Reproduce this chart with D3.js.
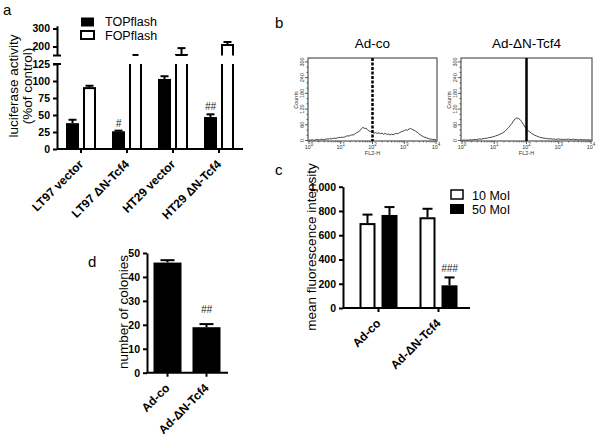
<!DOCTYPE html>
<html>
<head>
<meta charset="utf-8">
<script src="https://cdn.jsdelivr.net/npm/d3@7/dist/d3.min.js"></script>
<style>
body { margin: 0; background: #fff; }
svg { font-family: "Liberation Sans", Arial, sans-serif; }
</style>
</head>
<body>
<svg id="fig" width="600" height="438"></svg>
<script>
// ---- panel a: luciferase reporter
var lucGroups = ["LT97 vector", "LT97 \u0394N-Tcf4", "HT29 vector", "HT29 \u0394N-Tcf4"];
var topflash = [38, 26, 103, 47];
var topflashErr = [5, 1, 4, 4];
var fopflash = [91, 148, 153, 209];
var fopflashErr = [2, 5, 38, 16];
var lucTicksLow = [0, 25, 50, 75, 100, 125];
var lucTicksHigh = [200, 300];

// ---- panel b: FACS histograms (counts per 0.05 log-decade bin, 10^0..10^4)
var facsTicksY = [0, 60, 120, 180, 240, 300];
var facsDecades = [0, 1, 2, 3, 4];
var adCoCounts = [2,1,3,1,2,4,2,3,5,3, 4,6,5,7,6,8,9,8,10,12,
	11,13,12,15,18,17,19,22,21,26, 30,33,37,45,50,46,47,40,36,33,
	31,28,30,27,29,26,28,24,27,23, 25,21,24,22,25,27,26,30,33,35,
	38,41,39,44,46,42,40,36,32,27, 22,18,15,12,10,8,6,5,4,4, 3];
var adDnCounts = [1,2,1,2,1,3,2,3,4,3, 5,6,5,7,8,8,10,11,12,14,
	15,18,20,22,26,28,32,37,44,50, 58,66,75,83,86,84,80,72,62,52,
	44,38,33,28,24,20,18,15,13,11, 10,9,8,7,6,7,5,6,4,5,
	6,4,5,3,5,4,6,3,4,5, 3,4,2,3,4,2,3,2,3,2, 2];
var facsGate = 100;

// ---- panel c: mean fluorescence intensity
var mfiGroups = ["Ad-co", "Ad-\u0394N-Tcf4"];
var moi10 = [700, 748];
var moi10Err = [70, 70];
var moi50 = [767, 187];
var moi50Err = [65, 65];
var mfiTicks = [0, 200, 400, 600, 800, 1000];

// ---- panel d: colonies
var colGroups = ["Ad-co", "Ad-\u0394N-Tcf4"];
var colonies = [46, 19];
var coloniesErr = [1, 1.3];
var colTicks = [0, 10, 20, 30, 40, 50];

var svg = d3.select("#fig");

function styleAxis(g, fs) {
	g.selectAll("path, line").attr("stroke", "#000").attr("stroke-width", 2);
	g.selectAll("text").attr("font-size", fs).attr("font-weight", "bold")
		.attr("fill", "#000").attr("font-family", "Liberation Sans, Arial, sans-serif");
}

function label(x, y, t, size) {
	svg.append("text").attr("x", x).attr("y", y).attr("font-size", size || 15).text(t);
}

function errBar(cx, yTop, yErr, cap) {
	svg.append("line").attr("x1", cx).attr("x2", cx).attr("y1", yTop).attr("y2", yErr)
		.attr("stroke", "#000").attr("stroke-width", 2);
	svg.append("line").attr("x1", cx - cap / 2).attr("x2", cx + cap / 2).attr("y1", yErr).attr("y2", yErr)
		.attr("stroke", "#000").attr("stroke-width", 2);
}

function xLabels(scale, groups, y0, dx, dy) {
	groups.forEach(function(g) {
		var cx = scale(g) + scale.bandwidth() / 2;
		svg.append("text")
			.attr("transform", "translate(" + (cx + dx) + "," + (y0 + dy) + ") rotate(-45)")
			.attr("text-anchor", "end").attr("font-size", 12).attr("font-weight", "bold")
			.text(g);
	});
}

function xAxis(scale, y0, x0, x1) {
	svg.append("g").attr("transform", "translate(0," + y0 + ")")
		.call(d3.axisBottom(scale).tickSize(4).tickSizeOuter(0).tickFormat(""))
		.call(function(g) { g.select(".domain").attr("d", "M" + x0 + ",0H" + x1); })
		.call(styleAxis, 10.5);
}

function hash(x, y, t) {
	svg.append("text").attr("x", x).attr("y", y).attr("text-anchor", "middle")
		.attr("font-size", 10).attr("font-style", "italic").attr("fill", "#222").text(t);
}

// ================= panel a
label(3, 15, "a");
var ax0 = 57, aBase = 149;
var yLow = d3.scaleLinear().domain([0, 125]).range([aBase, 64]);
var yHigh = d3.scaleLinear().domain([150, 315]).range([55.5, 25.8]);
var xa = d3.scaleBand().domain(lucGroups).range([58, 242]);

svg.append("g").attr("transform", "translate(" + ax0 + ",0)")
	.call(d3.axisLeft(yLow).tickValues(lucTicksLow).tickSize(4).tickSizeOuter(0))
	.call(styleAxis, 10.5);
svg.append("g").attr("transform", "translate(" + ax0 + ",0)")
	.call(d3.axisLeft(yHigh).tickValues(lucTicksHigh).tickSize(4).tickSizeOuter(0))
	.call(styleAxis, 10.5);
[55.5, 64].forEach(function(y) {
	svg.append("line").attr("x1", ax0 - 4).attr("x2", ax0 + 4).attr("y1", y).attr("y2", y)
		.attr("stroke", "#000").attr("stroke-width", 2);
});
xAxis(xa, aBase, ax0, 243);

lucGroups.forEach(function(g, i) {
	var c = xa(g) + xa.bandwidth() / 2;
	// TOPflash
	svg.append("rect").attr("x", c - 15).attr("width", 13)
		.attr("y", yLow(topflash[i])).attr("height", aBase - yLow(topflash[i])).attr("fill", "#000");
	errBar(c - 8.5, yLow(topflash[i]), yLow(topflash[i] + topflashErr[i]), 8);
	// FOPflash
	var v = fopflash[i];
	if (v <= 125) {
		svg.append("rect").attr("x", c + 3).attr("width", 11)
			.attr("y", yLow(v) + 1).attr("height", aBase - yLow(v) - 1)
			.attr("fill", "#fff").attr("stroke", "#000").attr("stroke-width", 2);
		errBar(c + 8.5, yLow(v), yLow(v + fopflashErr[i]), 8);
	} else {
		// lower segment: bar runs off the top of the axis
		svg.append("path").attr("d", "M" + (c + 3) + "," + yLow(125) + "V" + aBase + "M" + (c + 14) + "," + aBase + "V" + yLow(125))
			.attr("fill", "none").attr("stroke", "#000").attr("stroke-width", 2);
		if (v >= 150) {
			svg.append("path").attr("d", "M" + (c + 3) + "," + yHigh(150) + "V" + yHigh(v) + "H" + (c + 14) + "V" + yHigh(150))
				.attr("fill", "none").attr("stroke", "#000").attr("stroke-width", 2);
			errBar(c + 8.5, yHigh(v), yHigh(v + fopflashErr[i]), 8);
		} else {
			errBar(c + 8.5, yHigh(150), yHigh(v + fopflashErr[i]), 6);
		}
	}
});
hash(xa(lucGroups[1]) + xa.bandwidth() / 2 - 8.5, yLow(topflash[1] + topflashErr[1]) - 4, "#");
hash(xa(lucGroups[3]) + xa.bandwidth() / 2 - 8.5, yLow(topflash[3] + topflashErr[3]) - 4, "##");
xLabels(xa, lucGroups, aBase, 3, 16);

svg.append("text").attr("transform", "translate(18,86) rotate(-90)").attr("text-anchor", "middle")
	.attr("font-size", 13.5).text("luciferase activity");
svg.append("text").attr("transform", "translate(32,86) rotate(-90)").attr("text-anchor", "middle")
	.attr("font-size", 13.5).text("(%of control)");

// legend a
svg.append("rect").attr("x", 81).attr("y", 17.5).attr("width", 13).attr("height", 9).attr("fill", "#000");
svg.append("rect").attr("x", 81).attr("y", 31).attr("width", 13).attr("height", 8)
	.attr("fill", "#fff").attr("stroke", "#000").attr("stroke-width", 2);
svg.append("text").attr("x", 105).attr("y", 26).attr("font-size", 12.5).text("TOPflash");
svg.append("text").attr("x", 105).attr("y", 40).attr("font-size", 12.5).text("FOPflash");

// ================= panel b
label(275, 28, "b");
function facs(x0, x1, counts, title, dashed) {
	var top = 58, bot = 141;
	var xs = d3.scaleLog().domain([1, 1e4]).range([x0 + 1, x1 - 1]);
	var ys = d3.scaleLinear().domain([0, 315]).range([140.5, top]);
	var bins = counts.map(function(d, i) { return Math.pow(10, i * 0.05); });

	svg.append("text").attr("x", (x0 + x1) / 2).attr("y", 48).attr("text-anchor", "middle")
		.attr("font-size", 13.5).text(title);
	svg.append("rect").attr("x", x0).attr("y", top).attr("width", x1 - x0).attr("height", bot - top)
		.attr("fill", "none").attr("stroke", "#333").attr("stroke-width", 1);

	// y ticks
	d3.range(0, 301, 20).forEach(function(v) {
		var major = facsTicksY.indexOf(v) >= 0;
		svg.append("line").attr("x1", x0 - (major ? 3 : 1.5)).attr("x2", x0).attr("y1", ys(v)).attr("y2", ys(v))
			.attr("stroke", "#333").attr("stroke-width", 0.8);
	});
	facsTicksY.forEach(function(v) {
		svg.append("text").attr("transform", "translate(" + (x0 - 4) + "," + ys(v) + ") rotate(-90)")
			.attr("text-anchor", "middle").attr("font-size", 5.5).attr("fill", "#333").text(v);
	});
	svg.append("text").attr("transform", "translate(" + (x0 - 10) + "," + 100 + ") rotate(-90)")
		.attr("text-anchor", "middle").attr("font-size", 5.5).attr("fill", "#333").text("Counts");

	// x ticks
	facsDecades.forEach(function(d) {
		var v = Math.pow(10, d);
		svg.append("line").attr("x1", xs(v)).attr("x2", xs(v)).attr("y1", bot).attr("y2", bot + 3)
			.attr("stroke", "#333").attr("stroke-width", 0.8);
		var t = svg.append("text").attr("x", xs(v)).attr("y", 148.5).attr("text-anchor", "middle")
			.attr("font-size", 5.5).attr("fill", "#333");
		t.append("tspan").text("10");
		t.append("tspan").attr("dy", -2.5).attr("font-size", 4.5).text(d);
		if (d < 4) {
			d3.range(2, 10).forEach(function(k) {
				svg.append("line").attr("x1", xs(k * v)).attr("x2", xs(k * v)).attr("y1", bot).attr("y2", bot + 1.5)
					.attr("stroke", "#333").attr("stroke-width", 0.6);
			});
		}
	});
	svg.append("text").attr("x", (x0 + x1) / 2).attr("y", 155).attr("text-anchor", "middle")
		.attr("font-size", 5.5).attr("fill", "#333").text("FL2-H");

	svg.append("path").datum(counts)
		.attr("d", d3.line().x(function(d, i) { return xs(bins[i]); }).y(function(d) { return ys(d); }))
		.attr("fill", "none").attr("stroke", "#444").attr("stroke-width", 1);

	svg.append("line").attr("x1", xs(facsGate)).attr("x2", xs(facsGate)).attr("y1", top).attr("y2", bot)
		.attr("stroke", "#000").attr("stroke-width", 2.5)
		.attr("stroke-dasharray", dashed ? "3,1.5" : null);
}
facs(308, 437, adCoCounts, "Ad-co", true);
facs(461, 592, adDnCounts, "Ad-\u0394N-Tcf4", false);

// ================= panel c
label(275, 175, "c");
var cx0 = 343, cBase = 308;
var yc = d3.scaleLinear().domain([0, 1000]).range([cBase, 186.7]);
var xc = d3.scaleBand().domain(mfiGroups).range([348.5, 468.5]);
svg.append("g").attr("transform", "translate(" + cx0 + ",0)")
	.call(d3.axisLeft(yc).tickValues(mfiTicks).tickSize(4).tickSizeOuter(0))
	.call(styleAxis, 10.5);
xAxis(xc, cBase, cx0, 470);
mfiGroups.forEach(function(g, i) {
	var c = xc(g) + xc.bandwidth() / 2;
	svg.append("rect").attr("x", c - 18).attr("width", 14)
		.attr("y", yc(moi10[i]) + 1).attr("height", cBase - yc(moi10[i]) - 1)
		.attr("fill", "#fff").attr("stroke", "#000").attr("stroke-width", 2);
	errBar(c - 11, yc(moi10[i]), yc(moi10[i] + moi10Err[i]), 10);
	svg.append("rect").attr("x", c + 3).attr("width", 16)
		.attr("y", yc(moi50[i])).attr("height", cBase - yc(moi50[i])).attr("fill", "#000");
	errBar(c + 11, yc(moi50[i]), yc(moi50[i] + moi50Err[i]), 10);
});
hash(xc(mfiGroups[1]) + xc.bandwidth() / 2 + 11, yc(moi50[1] + moi50Err[1]) - 5, "###");
xLabels(xc, mfiGroups, cBase, 3, 16);
svg.append("text").attr("transform", "translate(316,247) rotate(-90)").attr("text-anchor", "middle")
	.attr("font-size", 13.5).text("mean fluorescence intensity");
svg.append("rect").attr("x", 451).attr("y", 190).attr("width", 12).attr("height", 9)
	.attr("fill", "#fff").attr("stroke", "#000").attr("stroke-width", 1.5);
svg.append("rect").attr("x", 450).attr("y", 204).attr("width", 14).attr("height", 10).attr("fill", "#000");
svg.append("text").attr("x", 472).attr("y", 199.5).attr("font-size", 12.5).text("10 MoI");
svg.append("text").attr("x", 472).attr("y", 213.5).attr("font-size", 12.5).text("50 MoI");

// ================= panel d
label(88, 267, "d");
var dx0 = 147, dBase = 372.7;
var yd = d3.scaleLinear().domain([0, 50]).range([dBase, 253]);
var xd = d3.scaleBand().domain(colGroups).range([148, 226]);
svg.append("g").attr("transform", "translate(" + dx0 + ",0)")
	.call(d3.axisLeft(yd).tickValues(colTicks).tickSize(4).tickSizeOuter(0))
	.call(styleAxis, 10.5);
xAxis(xd, dBase, dx0, 228);
colGroups.forEach(function(g, i) {
	var c = xd(g) + xd.bandwidth() / 2;
	svg.append("rect").attr("x", c - 14).attr("width", 28)
		.attr("y", yd(colonies[i])).attr("height", dBase - yd(colonies[i])).attr("fill", "#000");
	errBar(c, yd(colonies[i]), yd(colonies[i] + coloniesErr[i]), 14);
});
hash(xd(colGroups[1]) + xd.bandwidth() / 2, 313, "##");
xLabels(xd, colGroups, dBase, 3, 16);
svg.append("text").attr("transform", "translate(128,312) rotate(-90)").attr("text-anchor", "middle")
	.attr("font-size", 13.5).text("number of colonies");
</script>
</body>
</html>
